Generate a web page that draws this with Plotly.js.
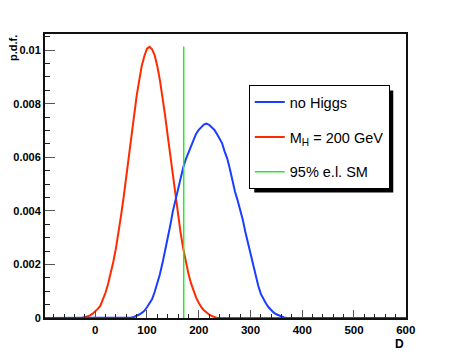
<!DOCTYPE html>
<html>
<head>
<meta charset="utf-8">
<script src="https://cdn.plot.ly/plotly-3.0.1.min.js"></script>
<style>html,body{margin:0;padding:0;background:#fff;}#chart{width:452px;height:354px;}</style>
</head>
<body>
<div id="chart"></div>
<script>
// D values (bin centres) and p.d.f. values
var redD = [-100,-30,-25,-20,-15,-10,-5,0,5,10,15,20,25,30,35,40,45,50,55,60,65,70,75,80,85,90,95,100,105,110,115,120,125,130,135,140,145,150,155,160,165,170,175,180,185,190,195,200,205,210,215,220,225,230,235,600];
var redP = [0,0,0.00001,0.00003,0.00006,0.0001,0.00016,0.00024,0.00034,0.00046,0.00068,0.00095,0.00128,0.00165,0.0021,0.0026,0.00318,0.00383,0.00452,0.00527,0.00603,0.00683,0.00758,0.00828,0.00886,0.00942,0.00978,0.01005,0.01012,0.01003,0.0098,0.0094,0.00888,0.00826,0.00757,0.00682,0.00606,0.00528,0.00453,0.00384,0.00318,0.0026,0.00211,0.00167,0.0013,0.001,0.00076,0.00057,0.0004,0.00029,0.0002,0.00013,0.00008,0.00004,0,0];

var blueD = [-100,60,65,70,75,80,85,90,95,100,105,110,115,120,125,130,135,140,145,150,155,160,165,170,175,180,185,190,195,200,205,210,215,220,225,230,235,240,245,250,255,260,265,270,275,280,285,290,295,300,305,310,315,320,325,330,335,340,345,350,355,360,365,370,375,600];
var blueP = [0,0,0,0.00002,0.00004,0.00008,0.00013,0.00019,0.00027,0.0004,0.00054,0.00071,0.00098,0.00128,0.00163,0.00205,0.00248,0.00292,0.00345,0.00398,0.00442,0.00482,0.00518,0.00562,0.00592,0.00615,0.00642,0.00664,0.00688,0.00702,0.00712,0.00722,0.00726,0.00721,0.00712,0.00703,0.00688,0.00672,0.00653,0.00622,0.00596,0.00558,0.00512,0.00472,0.0044,0.00408,0.00368,0.00322,0.0028,0.00238,0.00192,0.00155,0.0012,0.0009,0.00069,0.00054,0.0004,0.0003,0.0002,0.00014,0.00009,0.00005,0.00002,0,0,0];

var greenD = [171, 171];
var greenP = [0, 0.01013];

var seriesNames = ['no Higgs', 'M<sub>H</sub> = 200 GeV', '95% e.l. SM'];
var xTickVals = [0, 100, 200, 300, 400, 500, 600];
var xTickText = ['0', '100', '200', '300', '400', '500', '600'];
var yTickVals = [0, 0.002, 0.004, 0.006, 0.008, 0.01];
var yTickText = ['0', '0.002', '0.004', '0.006', '0.008', '0.01'];
var xTitle = 'D';
var yTitle = 'p.d.f.';

var FONT = '"Liberation Sans", Arial, sans-serif';

var traces = [
  {x: redD, y: redP, type: 'scatter', mode: 'lines', line: {color: '#ff2a00', width: 2},
   name: seriesNames[1], legendgroup: 'b', legendrank: 2},
  {x: blueD, y: blueP, type: 'scatter', mode: 'lines', line: {color: '#1a3dff', width: 2},
   name: seriesNames[0], legendgroup: 'a', legendrank: 1},
  {x: greenD, y: greenP, type: 'scatter', mode: 'lines', line: {color: '#2ee62e', width: 1.5},
   name: seriesNames[2], legendgroup: 'c', legendrank: 3}
];

var layout = {
  width: 452, height: 354,
  margin: {l: 45, r: 46, t: 34, b: 36},
  paper_bgcolor: '#fff', plot_bgcolor: '#fff',
  showlegend: true,
  legend: {
    x: 0.955, xanchor: 'right', y: 0.82, yanchor: 'top',
    bgcolor: '#fff', bordercolor: '#000', borderwidth: 1,
    font: {family: FONT, size: 14.5, color: '#000'},
    traceorder: 'grouped', tracegroupgap: 13
  },
  xaxis: {
    range: [-97, 600.5], showgrid: false, zeroline: false,
    showline: true, mirror: true, linecolor: '#111', linewidth: 2,
    ticks: 'inside', ticklen: 8, tickwidth: 1, tickcolor: '#555',
    tickvals: xTickVals, ticktext: xTickText,
    minor: {dtick: 20, tick0: 0, ticks: 'inside', ticklen: 4, tickcolor: '#222', showgrid: false},
    tickfont: {family: FONT, size: 11.5, color: '#000', weight: 'bold'}
  },
  yaxis: {
    range: [0, 0.0106], showgrid: false, zeroline: false,
    showline: true, mirror: true, linecolor: '#111', linewidth: 2,
    ticks: 'inside', ticklen: 10, tickwidth: 1, tickcolor: '#555',
    tickvals: yTickVals, ticktext: yTickText,
    minor: {dtick: 0.0005, tick0: 0, ticks: 'inside', ticklen: 5, tickcolor: '#222', showgrid: false},
    tickfont: {family: FONT, size: 11, color: '#000', weight: 'bold'}
  },
  annotations: [
    {text: yTitle, xref: 'paper', yref: 'paper', x: 0, y: 1, xanchor: 'right', yanchor: 'top',
     xshift: -24, yshift: 1, textangle: -90, showarrow: false,
     font: {family: FONT, size: 11, color: '#000', weight: 'bold'}},
    {text: xTitle, xref: 'paper', yref: 'paper', x: 1, y: 0, xanchor: 'right', yanchor: 'top',
     yshift: -17, showarrow: false,
     font: {family: FONT, size: 12, color: '#000', weight: 'bold'}}
  ]
};

Plotly.newPlot('chart', traces, layout, {displayModeBar: false, staticPlot: true}).then(function (gd) {
  var bg = gd.querySelector('.legend .bg');
  if (!bg) return;
  var r = bg.getBoundingClientRect();
  var c = gd.getBoundingClientRect();
  var s = gd._fullLayout._size;
  function px(x) { return (x - c.left - s.l) / s.w; }
  function py(y) { return 1 - (y - c.top - s.t) / s.h; }
  var off = 5;
  Plotly.relayout(gd, {shapes: [
    {type: 'rect', xref: 'paper', yref: 'paper', layer: 'above',
     x0: px(r.left + off), x1: px(r.right + off - 1), y0: py(r.top + off), y1: py(r.bottom + off - 1),
     fillcolor: '#000', line: {width: 0}}
  ]});
});
</script>
</body>
</html>
